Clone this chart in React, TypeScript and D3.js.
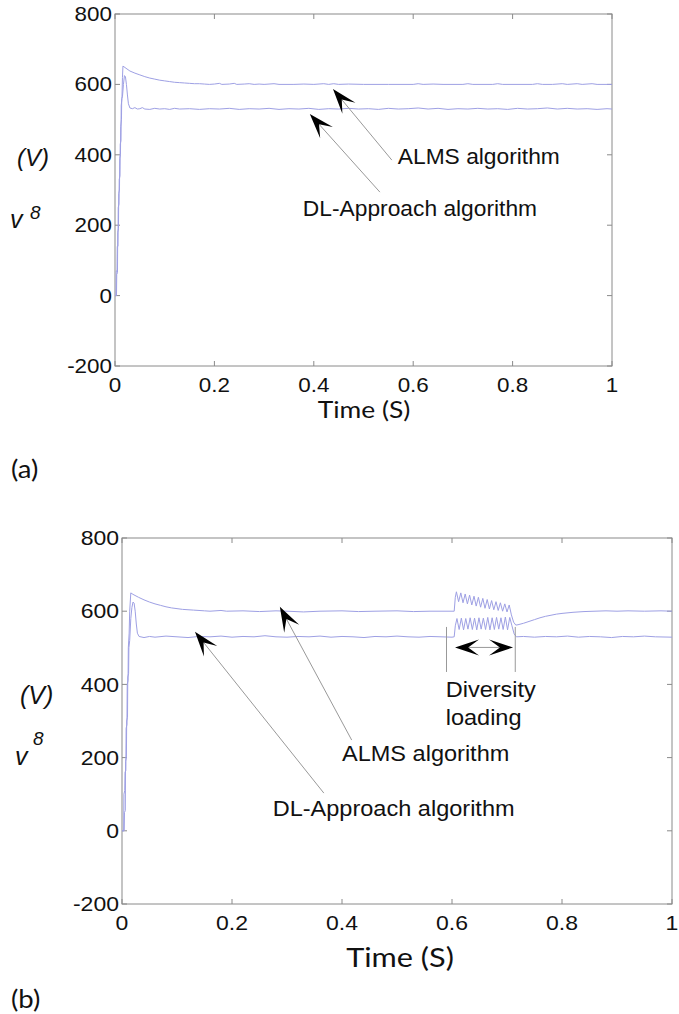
import React from 'react';
import * as d3 from 'd3';

// time (s), voltage (V)
const almsA: [number, number][] = [
  [0, 0], [0.002, 0], [0.0025, 70], [0.004, 70], [0.0045, 140], [0.006, 140], [0.0065, 250], [0.008, 260],
  [0.0085, 330], [0.01, 340], [0.0105, 430], [0.012, 440], [0.0125, 540], [0.014, 560], [0.015, 620], [0.016, 652],
  [0.02, 648], [0.03, 638], [0.04, 632], [0.05, 627], [0.06, 622], [0.07, 618], [0.08, 615], [0.09, 612],
  [0.1, 610], [0.11, 608], [0.12, 606], [0.13, 605], [0.14, 604], [0.15, 603], [0.16, 602], [0.17, 602],
  [0.18, 601], [0.19, 600], [0.2, 601], [0.21, 603], [0.215, 600], [0.23, 601], [0.24, 603], [0.245, 600],
  [0.26, 601], [0.27, 602], [0.28, 600], [0.29, 601], [0.3, 600], [0.32, 602], [0.33, 600], [0.36, 600],
  [0.38, 601], [0.4, 600], [0.42, 602], [0.43, 600], [0.44, 602], [0.45, 600], [0.47, 601], [0.5, 600],
  [0.55, 600], [0.6, 600], [0.61, 602], [0.62, 600], [0.64, 601], [0.66, 600], [0.7, 600], [0.71, 602],
  [0.72, 600], [0.76, 600], [0.77, 602], [0.78, 600], [0.84, 600], [0.85, 602], [0.86, 600], [0.88, 600],
  [0.9, 602], [0.91, 600], [0.93, 602], [0.94, 600], [0.96, 602], [0.97, 600], [1, 600],
];

const dlA: [number, number][] = [
  [0, 0], [0.003, 0], [0.0035, 60], [0.005, 65], [0.0055, 180], [0.007, 190], [0.0075, 290], [0.009, 300],
  [0.0095, 390], [0.011, 400], [0.0115, 480], [0.013, 500], [0.0135, 560], [0.015, 565], [0.017, 600], [0.019, 625],
  [0.021, 622], [0.023, 600], [0.025, 570], [0.027, 545], [0.03, 533], [0.035, 531], [0.04, 534], [0.045, 530],
  [0.05, 531], [0.055, 534], [0.06, 530], [0.07, 529], [0.08, 532], [0.09, 530], [0.1, 531], [0.11, 529],
  [0.12, 532], [0.13, 530], [0.15, 531], [0.17, 529], [0.19, 531], [0.21, 530], [0.23, 532], [0.25, 529],
  [0.27, 531], [0.29, 530], [0.31, 532], [0.33, 529], [0.35, 531], [0.37, 530], [0.39, 532], [0.41, 529],
  [0.43, 531], [0.45, 530], [0.47, 532], [0.49, 530], [0.51, 531], [0.53, 529], [0.55, 532], [0.57, 530],
  [0.59, 531], [0.61, 533], [0.63, 530], [0.65, 532], [0.67, 529], [0.69, 531], [0.71, 530], [0.73, 532],
  [0.75, 530], [0.77, 531], [0.79, 529], [0.81, 532], [0.83, 530], [0.85, 531], [0.87, 533], [0.89, 530],
  [0.91, 532], [0.93, 530], [0.95, 531], [0.97, 529], [0.99, 531], [1, 530],
];

const almsB: [number, number][] = [
  [0, 0], [0.003, 0], [0.0035, 100], [0.005, 110], [0.0055, 160], [0.007, 165], [0.0075, 280], [0.009, 290],
  [0.0095, 400], [0.011, 410], [0.0115, 500], [0.013, 540], [0.014, 600], [0.016, 650], [0.02, 646], [0.03, 638],
  [0.04, 631], [0.05, 625], [0.06, 620], [0.07, 616], [0.08, 612], [0.09, 609], [0.1, 607], [0.11, 605],
  [0.12, 604], [0.13, 603], [0.14, 602], [0.15, 601], [0.16, 600], [0.18, 602], [0.19, 600], [0.22, 601],
  [0.25, 599], [0.28, 601], [0.3, 600], [0.33, 598], [0.36, 600], [0.4, 601], [0.43, 599], [0.46, 600],
  [0.5, 601], [0.53, 599], [0.56, 600], [0.6, 600], [0.604, 600],
  [0.606, 638], [0.608, 653], [0.612, 626], [0.616, 650], [0.62, 623], [0.624, 647], [0.628, 620], [0.632, 644],
  [0.636, 617], [0.64, 641], [0.644, 614], [0.648, 638], [0.652, 611], [0.656, 635], [0.66, 608], [0.664, 632],
  [0.668, 606], [0.672, 629], [0.676, 604], [0.68, 626], [0.684, 602], [0.688, 623], [0.692, 600], [0.696, 620],
  [0.7, 598], [0.704, 617], [0.708, 590], [0.712, 570], [0.716, 562],
  [0.72, 563], [0.73, 567], [0.74, 572], [0.75, 577], [0.76, 582], [0.77, 586], [0.78, 589], [0.79, 592],
  [0.8, 594], [0.82, 597], [0.84, 599], [0.86, 600], [0.88, 601], [0.9, 600], [0.92, 601], [0.95, 600],
  [0.98, 601], [1, 600],
];

const dlB: [number, number][] = [
  [0, 0], [0.004, 0], [0.0045, 50], [0.006, 55], [0.0065, 190], [0.008, 200], [0.0085, 300], [0.01, 310],
  [0.0105, 420], [0.012, 430], [0.0125, 500], [0.014, 520], [0.016, 580], [0.018, 610], [0.02, 625], [0.022, 622],
  [0.024, 600], [0.026, 565], [0.028, 540], [0.031, 531], [0.04, 528], [0.05, 531], [0.06, 529], [0.08, 532],
  [0.1, 530], [0.12, 528], [0.14, 531], [0.16, 530], [0.18, 532], [0.2, 529], [0.22, 531], [0.24, 530],
  [0.26, 533], [0.28, 530], [0.3, 529], [0.32, 531], [0.34, 530], [0.36, 532], [0.38, 529], [0.4, 531],
  [0.42, 530], [0.44, 528], [0.46, 531], [0.48, 530], [0.5, 532], [0.52, 530], [0.54, 529], [0.56, 531],
  [0.58, 530], [0.6, 529], [0.604, 530],
  [0.606, 560], [0.609, 580], [0.613, 550], [0.617, 581], [0.621, 549], [0.625, 580], [0.629, 551], [0.633, 582],
  [0.637, 550], [0.641, 581], [0.645, 549], [0.649, 582], [0.653, 551], [0.657, 581], [0.661, 550], [0.665, 583],
  [0.669, 549], [0.673, 582], [0.677, 550], [0.681, 583], [0.685, 551], [0.689, 582], [0.693, 550], [0.697, 584],
  [0.701, 549], [0.705, 583], [0.709, 560], [0.713, 538], [0.717, 530],
  [0.73, 531], [0.75, 529], [0.77, 531], [0.79, 530], [0.81, 532], [0.83, 529], [0.85, 531], [0.87, 530],
  [0.89, 528], [0.91, 531], [0.93, 530], [0.95, 532], [0.97, 530], [1, 529],
];

const xTicks = [0, 0.2, 0.4, 0.6, 0.8, 1];
const yTicks = [-200, 0, 200, 400, 600, 800];

const lineColor = '#9ea0e4';
const axisColor = '#8a8a8a';
const sans = '"Liberation Sans", Arial, Helvetica, sans-serif';
const calibri = 'Lato, "Open Sans", sans-serif';

type Box = { left: number; right: number; top: number; bottom: number };

const T = ({ x, y, size, sx = 1, anchor = 'start', family = sans, italic = false, children }: any) => (
  <text
    transform={`translate(${x},${y}) scale(${sx},1)`}
    fontSize={size}
    fontFamily={family}
    fontStyle={italic ? 'italic' : 'normal'}
    textAnchor={anchor}
    fill="#111"
  >
    {children}
  </text>
);

// MATLAB-style arrow, tip at (x2, y2)
const Arrow = ({ x1, y1, x2, y2, L = 25, w = 17 }: any) => {
  const len = Math.hypot(x2 - x1, y2 - y1);
  const dx = (x2 - x1) / len, dy = (y2 - y1) / len;
  const nx = -dy, ny = dx;
  const k = 0.55;
  const pts = [
    [x2, y2],
    [x2 - L * dx + (w / 2) * nx, y2 - L * dy + (w / 2) * ny],
    [x2 - k * L * dx, y2 - k * L * dy],
    [x2 - L * dx - (w / 2) * nx, y2 - L * dy - (w / 2) * ny],
  ];
  return (
    <g>
      <line x1={x1} y1={y1} x2={x2 - k * L * dx} y2={y2 - k * L * dy} stroke="#999" strokeWidth={1} />
      <polygon points={pts.map(p => p.join(',')).join(' ')} fill="#000" />
    </g>
  );
};

const Panel = ({ box, alms, dl, fs, children }: any) => {
  const b: Box = box;
  const x = d3.scaleLinear().domain([0, 1]).range([b.left, b.right]);
  const y = d3.scaleLinear().domain([-200, 800]).range([b.bottom, b.top]);
  const line = d3.line<[number, number]>().x(d => x(d[0])).y(d => y(d[1]));
  const tl = 5;
  return (
    <g>
      <rect x={b.left} y={b.top} width={b.right - b.left} height={b.bottom - b.top} fill="none" stroke={axisColor} strokeWidth={1} />
      {xTicks.map(t => (
        <g key={'x' + t}>
          <line x1={x(t)} x2={x(t)} y1={b.bottom} y2={b.bottom - tl} stroke={axisColor} />
          <line x1={x(t)} x2={x(t)} y1={b.top} y2={b.top + tl} stroke={axisColor} />
          <T x={x(t)} y={b.bottom + 26} size={fs} sx={1.15} anchor="middle">{String(t)}</T>
        </g>
      ))}
      {yTicks.map(v => (
        <g key={'y' + v}>
          <line x1={b.left} x2={b.left + tl} y1={y(v)} y2={y(v)} stroke={axisColor} />
          <line x1={b.right} x2={b.right - tl} y1={y(v)} y2={y(v)} stroke={axisColor} />
          <T x={b.left - 3} y={y(v) + fs * 0.36} size={fs} sx={1.15} anchor="end">{String(v)}</T>
        </g>
      ))}
      <path d={line(alms) || ''} fill="none" stroke={lineColor} strokeWidth={1} />
      <path d={line(dl) || ''} fill="none" stroke={lineColor} strokeWidth={1} />
      {children(x, y)}
    </g>
  );
};

const boxA: Box = { left: 115, right: 612, top: 14, bottom: 366 };
const boxB: Box = { left: 122, right: 672, top: 538, bottom: 904 };

export default function App() {
  return (
    <svg width={679} height={1014} style={{ position: 'absolute', left: 0, top: 0, background: '#fff' }}>
      <Panel box={boxA} alms={almsA} dl={dlA} fs={19.5}>
        {(x: any, y: any) => (
          <g>
            <Arrow x1={x(0.557)} y1={y(385)} x2={x(0.4386)} y2={y(587)} />
            <Arrow x1={x(0.533)} y1={y(294)} x2={x(0.392)} y2={y(516)} />
            <T x={x(0.569)} y={y(397) + 8} size={21.5} sx={1.06}>ALMS algorithm</T>
            <T x={x(0.378)} y={y(249) + 8} size={21.5} sx={1.06}>DL-Approach algorithm</T>
          </g>
        )}
      </Panel>
      <T x={17} y={166} size={24} italic>(V)</T>
      <T x={10} y={228} size={25} italic>v</T>
      <T x={30} y={219} size={19} italic>8</T>
      <T x={364} y={418} size={24} sx={1.1} anchor="middle" family={calibri}>Time (S)</T>
      <T x={11} y={478} size={25} sx={1.1} family={calibri}>(a)</T>

      <Panel box={boxB} alms={almsB} dl={dlB} fs={20}>
        {(x: any, y: any) => (
          <g>
            <Arrow x1={x(0.4176)} y1={y(248)} x2={x(0.287)} y2={y(612)} />
            <Arrow x1={x(0.367)} y1={y(103)} x2={x(0.1327)} y2={y(544)} />
            <T x={x(0.4)} y={y(213) + 8} size={22} sx={1.07}>ALMS algorithm</T>
            <T x={x(0.274)} y={y(62) + 8} size={22} sx={1.07}>DL-Approach algorithm</T>
            <line x1={x(0.59)} x2={x(0.59)} y1={y(557)} y2={y(434)} stroke="#999" />
            <line x1={x(0.715)} x2={x(0.715)} y1={y(557)} y2={y(434)} stroke="#999" />
            <Arrow x1={x(0.66)} y1={y(501)} x2={x(0.6055)} y2={y(501)} L={24} w={16} />
            <Arrow x1={x(0.66)} y1={y(501)} x2={x(0.711)} y2={y(501)} L={24} w={16} />
            <T x={x(0.5885)} y={y(388) + 8} size={22} sx={1.07}>Diversity</T>
            <T x={x(0.5885)} y={y(312) + 8} size={22} sx={1.07}>loading</T>
          </g>
        )}
      </Panel>
      <T x={20} y={704} size={25} italic>(V)</T>
      <T x={15} y={765} size={25} italic>v</T>
      <T x={33} y={745} size={19} italic>8</T>
      <T x={400} y={967} size={26} sx={1.18} anchor="middle" family={calibri}>Time (S)</T>
      <T x={11} y={1008} size={25} sx={1.1} family={calibri}>(b)</T>
    </svg>
  );
}
